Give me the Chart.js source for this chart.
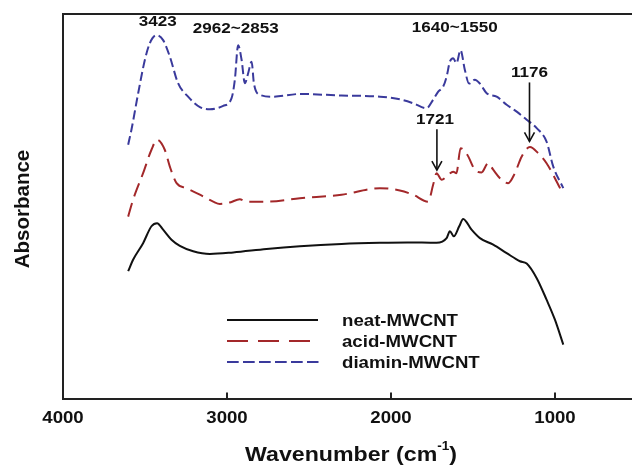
<!DOCTYPE html>
<html>
<head>
<meta charset="utf-8">
<script src="https://cdn.jsdelivr.net/npm/chart.js@4/dist/chart.umd.min.js"></script>
<style>
  html, body { margin: 0; padding: 0; background: #fff; overflow: hidden; }
  #wrap { width: 660px; height: 469px; }
</style>
</head>
<body>
<div id="wrap"><canvas id="c" width="660" height="469"></canvas></div>
<script>
// ---- data ----
const xTickLabels = [4000, 3000, 2000, 1000];
const seriesNames = ['neat-MWCNT', 'acid-MWCNT', 'diamin-MWCNT'];

const neatWn  = [3600,3570,3509,3458,3424,3387,3336,3285,3204,3102,2960,2757,2554,2300,2066,1900,1721,1660,1640,1616,1583,1559,1508,1457,1376,1294,1213,1172,1111,1051,1000,949];
const neatAbs = [33.1,36.1,40.4,44.8,45.6,43.9,41.3,39.7,38.3,37.6,38.0,38.9,39.6,40.2,40.5,40.6,40.5,41.7,43.5,42.2,44.8,46.7,43.9,41.7,40.0,37.8,35.7,35.1,31.3,25.7,20.5,14.0];

const acidWn  = [3600,3570,3509,3458,3424,3377,3346,3305,3244,3163,3082,3041,2980,2920,2879,2757,2554,2300,2066,1945,1864,1772,1742,1721,1690,1650,1620,1600,1575,1534,1488,1447,1407,1376,1335,1285,1244,1203,1152,1102,1051,1000,949];
const acidAbs = [47.3,51.7,58.6,64.7,67.3,64.7,60.3,56.0,54.7,53.0,51.2,50.6,51.0,51.8,51.2,51.2,52.1,53.0,54.7,54.1,53.0,51.2,55.6,58.6,56.9,58.2,59.0,58.6,65.1,63.4,59.5,58.8,61.2,59.5,57.3,56.0,58.6,62.9,65.4,63.8,61.2,57.3,53.0];

const diaminWn  = [3600,3580,3539,3498,3468,3427,3387,3346,3296,3235,3163,3102,3021,2970,2950,2930,2909,2889,2869,2848,2834,2798,2717,2554,2300,2066,1945,1864,1782,1742,1711,1681,1660,1640,1620,1600,1575,1549,1523,1488,1457,1416,1355,1294,1233,1172,1111,1051,1010,949];
const diaminAbs = [66.0,69.9,79.4,88.1,92.4,94.5,93.2,88.9,82.0,78.5,75.8,75.2,76.1,78.1,82.9,91.9,88.1,82.0,84.6,87.6,82.0,79.0,78.5,79.2,78.8,78.5,77.8,76.8,75.5,77.7,79.8,81.1,83.7,87.6,88.5,87.2,90.6,85.5,81.9,82.9,81.9,79.4,78.5,76.4,74.6,72.5,70.3,66.8,60.3,54.7];

// peak annotations: label, wavenumber, absorbance level of the label
const annoLabels = ['3423', '2962~2853', '1640~1550', '1176', '1721'];
const annoWn     = [3420, 2945, 1610, 1155, 1731];
const annoAbs    = [97.8, 96.0, 96.2, 84.6, 72.4];
// arrows: wavenumber, start absorbance, end absorbance
const arrowWn    = [1719, 1155];
const arrowFrom  = [70.0, 82.2];
const arrowTo    = [59.4, 66.9];

// ---- build ----
const toPts = (wn, a) => wn.map((w, i) => ({x: w, y: a[i]}));
const FONT = '"Liberation Sans", Arial, sans-serif';
const STRETCH = 1.13;
const styles = [
  {color: '#111111', dash: [], legendDash: [], legendLen: 91},
  {color: '#a3282a', dash: [14, 7], legendDash: [21, 10], legendLen: 83},
  {color: '#3a3a9c', dash: [9, 4], legendDash: [11.7, 4.3], legendLen: 91.5}
];
const seriesData = [toPts(neatWn, neatAbs), toPts(acidWn, acidAbs), toPts(diaminWn, diaminAbs)];

const datasets = seriesData.map((d, i) => ({
  label: seriesNames[i],
  data: d,
  borderColor: styles[i].color,
  borderDash: styles[i].dash,
  borderWidth: 2,
  pointRadius: 0,
  fill: false,
  cubicInterpolationMode: 'monotone'
}));

function drawText(ctx, text, x, y, font, align, sx) {
  ctx.save();
  ctx.font = font;
  ctx.translate(x, y);
  ctx.scale(sx, 1);
  ctx.textAlign = align;
  ctx.textBaseline = 'middle';
  ctx.fillText(text, 0, 0);
  ctx.restore();
}

const overlay = {
  id: 'overlay',
  afterDraw(chart) {
    const {ctx, chartArea: a, scales: {x, y}} = chart;
    ctx.save();
    ctx.strokeStyle = '#222';
    ctx.lineWidth = 2;
    // top frame line
    ctx.beginPath(); ctx.moveTo(a.left, a.top); ctx.lineTo(a.right + 2, a.top); ctx.stroke();
    // inward tick marks + tick labels
    ctx.fillStyle = '#111';
    xTickLabels.forEach(v => {
      const px = Math.round(x.getPixelForValue(v));
      if (px - a.left >= 3) {
        ctx.beginPath(); ctx.moveTo(px, a.bottom); ctx.lineTo(px, a.bottom - 6); ctx.stroke();
      }
      drawText(ctx, String(v), px, a.bottom + 19.5, 'bold 16.5px ' + FONT, 'center', STRETCH);
    });
    // annotations
    annoLabels.forEach((t, i) => {
      drawText(ctx, t, x.getPixelForValue(annoWn[i]), y.getPixelForValue(annoAbs[i]),
               'bold 14px ' + FONT, 'center', 1.22);
    });
    // arrows
    ctx.lineWidth = 1.6;
    ctx.strokeStyle = '#111';
    arrowWn.forEach((w, i) => {
      const px = x.getPixelForValue(w);
      const y0 = y.getPixelForValue(arrowFrom[i]);
      const y1 = y.getPixelForValue(arrowTo[i]);
      ctx.beginPath(); ctx.moveTo(px, y0); ctx.lineTo(px, y1); ctx.stroke();
      ctx.beginPath(); ctx.moveTo(px - 5, y1 - 9); ctx.lineTo(px, y1); ctx.lineTo(px + 5, y1 - 9); ctx.stroke();
    });
    // legend
    const lx0 = 227, tx = 342, ly = [320, 341, 362];
    chart.data.datasets.forEach((ds, i) => {
      ctx.strokeStyle = ds.borderColor;
      ctx.lineWidth = 2;
      ctx.setLineDash(styles[i].legendDash);
      ctx.beginPath(); ctx.moveTo(lx0, ly[i]); ctx.lineTo(lx0 + styles[i].legendLen, ly[i]); ctx.stroke();
      ctx.setLineDash([]);
      drawText(ctx, ds.label, tx, ly[i] + 1, 'bold 16.5px ' + FONT, 'left', STRETCH);
    });
    // x axis title with superscript
    const bigF = 'bold 20.5px ' + FONT, supF = 'bold 12px ' + FONT;
    const t1 = 'Wavenumber (cm', sup = '-1', t2 = ')';
    ctx.font = bigF;
    const w1 = ctx.measureText(t1).width, w3 = ctx.measureText(t2).width;
    ctx.font = supF;
    const w2 = ctx.measureText(sup).width;
    const cx = 351, cy = 455;
    ctx.save();
    ctx.translate(cx, cy);
    ctx.scale(STRETCH, 1);
    ctx.textBaseline = 'middle';
    ctx.textAlign = 'left';
    const sx = -(w1 + w2 + w3) / 2;
    ctx.font = bigF; ctx.fillText(t1, sx, 0);
    ctx.font = supF; ctx.fillText(sup, sx + w1, -8);
    ctx.font = bigF; ctx.fillText(t2, sx + w1 + w2, 0);
    ctx.restore();
    // y axis title
    ctx.save();
    ctx.translate(23, 209);
    ctx.rotate(-Math.PI / 2);
    ctx.font = bigF;
    ctx.textAlign = 'center';
    ctx.textBaseline = 'middle';
    ctx.fillText('Absorbance', 0, 0);
    ctx.restore();
    ctx.restore();
  }
};

new Chart(document.getElementById('c'), {
  type: 'line',
  data: {datasets},
  options: {
    responsive: false,
    animation: false,
    layout: {padding: {top: 14, right: 23, left: 0, bottom: 0}},
    plugins: {legend: {display: false}, tooltip: {enabled: false}},
    scales: {
      x: {
        type: 'linear',
        reverse: true,
        min: 500,
        max: 4000,
        afterBuildTicks: s => { s.ticks = xTickLabels.map(v => ({value: v})); },
        afterFit: s => { s.height = 70.5; },
        grid: {display: true, drawOnChartArea: false, drawTicks: false},
        border: {display: true, color: '#222', width: 2},
        ticks: {display: false}
      },
      y: {
        type: 'linear',
        min: 0,
        max: 100,
        afterFit: s => { s.width = 62.5; },
        grid: {display: true, drawOnChartArea: false, drawTicks: false},
        border: {display: true, color: '#222', width: 2},
        ticks: {display: false}
      }
    }
  },
  plugins: [overlay]
});
</script>
</body>
</html>
